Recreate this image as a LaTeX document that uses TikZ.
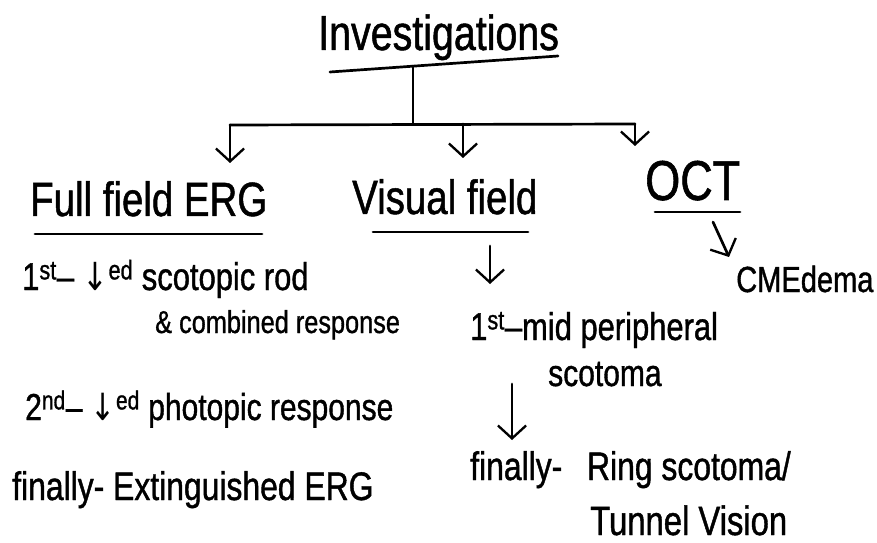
\documentclass[tikz,border=0pt]{standalone}
\usepackage{fontspec}
\setmainfont{Liberation Sans}[FakeStretch=0.8,FakeBold=1]
\newfontfamily\arrowfont{DejaVu Sans}[FakeStretch=0.8]
\usetikzlibrary{arrows.meta}
\newcommand{\fs}[1]{\fontsize{#1}{#1}\selectfont}
\newcommand{\dnarrow}{{\arrowfont\char"2193}}
\begin{document}
\begin{tikzpicture}[x=0.03cm,y=-0.03cm,
  ink/.style={line width=2.3pt, line cap=round, line join=round},
  pen/.style={ink, -{Straight Barb[length=11pt,width=24pt,line width=2pt]}},
  txt/.style={anchor=base west, inner sep=0pt}]
% page
\fill[white] (0,0) rectangle (877,543);

% headings
\node[txt, font=\fs{42}] (inv) at (318,50) {Investigations};
\node[txt, font=\fs{41}] (erg) at (30,216) {Full field ERG};
\node[txt, font=\fs{41}] (vf) at (352,214) {Visual field};
\node[txt, font=\fs{48}] (oct) at (645,200) {OCT};

% underlines
\coordinate (invL) at (330,72);
\coordinate (invR) at (558,56);
\coordinate (invM) at (413,66);
\draw[ink] (invL) -- (invR);
\coordinate (ergL) at (35,234);
\coordinate (ergR) at (262,234);
\draw[ink] (ergL) -- (ergR);
\coordinate (vfL) at (373,232);
\coordinate (vfR) at (528,232);
\draw[ink] (vfL) -- (vfR);
\coordinate (octL) at (655,212);
\coordinate (octR) at (740,212);
\draw[ink] (octL) -- (octR);

% tree connectors
\coordinate (hub) at (413,124);
\coordinate (barL) at (230,125);
\coordinate (barM) at (463,124);
\coordinate (barR) at (635,124);
\coordinate (tipErg) at (230,163);
\coordinate (tipVf) at (463,158);
\coordinate (tipOct) at (635,146);
\draw[ink] (invM) -- (hub);
\draw[ink] (barL) -- (barR);
\draw[pen] (barL) -- (tipErg);
\draw[pen] (barM) -- (tipVf);
\draw[pen] (barR) -- (tipOct);

% OCT branch
\node[txt, font=\fs{31}] (cme) at (736,292) {CMEdema};
\coordinate (octA) at (713,222);
\coordinate (octB) at (729,257);
\draw[pen] (octA) -- (octB);

% ERG branch
\node[txt, font=\fs{33}] (e1) at (22,290) {1\textsuperscript{st}– \dnarrow\textsuperscript{ed} scotopic rod};
\node[txt, font=\fs{27}] (e2) at (155,333) {\& combined response};
\node[txt, font=\fs{32}] (e3) at (25,420) {2\textsuperscript{nd}– \dnarrow\textsuperscript{ed} photopic response};
\node[txt, font=\fs{34}] (e4) at (12,500) {finally- Extinguished ERG};

% visual field branch
\coordinate (vfA) at (490,246);
\coordinate (vfB) at (490,284);
\draw[pen] (vfA) -- (vfB);
\node[txt, font=\fs{33}] (v1) at (470,340) {1\textsuperscript{st}–mid peripheral};
\node[txt, font=\fs{32}] (v2) at (548,386) {scotoma};
\coordinate (vfC) at (512,384);
\coordinate (vfD) at (512,440);
\draw[pen] (vfC) -- (vfD);
\node[txt, font=\fs{34}] (v3) at (470,480) {finally-\hspace{0.4em} Ring scotoma/};
\node[txt, font=\fs{35}] (v4) at (590,535) {Tunnel Vision};
\end{tikzpicture}
\end{document}
